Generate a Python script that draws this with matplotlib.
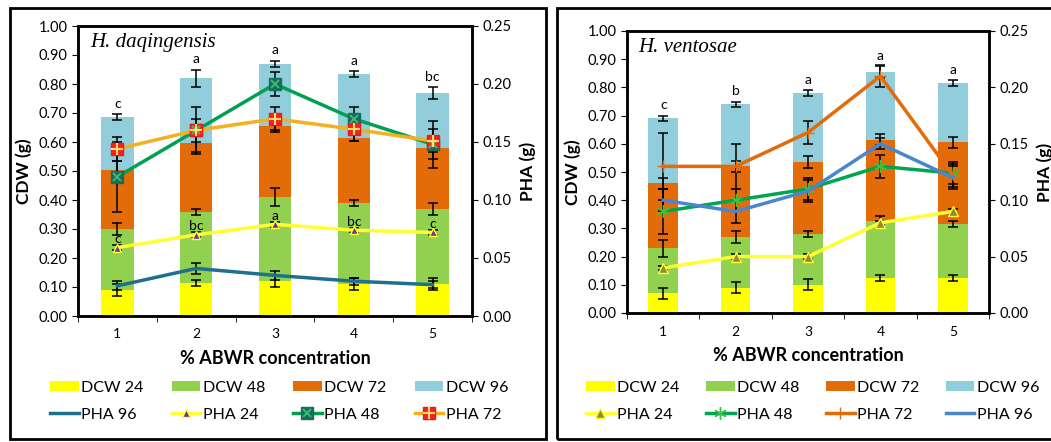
import numpy as np
import matplotlib
matplotlib.use("Agg")
import matplotlib.pyplot as plt
from matplotlib.patches import Rectangle

plt.rcParams['font.family'] = ['Lato', 'DejaVu Sans']

conc = [1, 2, 3, 4, 5]

# H. daqingensis: DCW stacked segments (g), errors at segment tops
dq_dcw24 = [0.09, 0.115, 0.12, 0.11, 0.11]
dq_dcw48 = [0.21, 0.245, 0.29, 0.28, 0.26]
dq_dcw72 = [0.205, 0.235, 0.245, 0.225, 0.21]
dq_dcw96 = [0.18, 0.225, 0.215, 0.22, 0.19]
dq_dcw24_err = [0.02, 0.01, 0.02, 0.02, 0.02]
dq_dcw48_err = [0.02, 0.01, 0.03, 0.01, 0.02]
dq_dcw72_err = [0.03, 0.03, 0.02, 0.01, 0.04]
dq_dcw96_err = [0.01, 0.03, 0.01, 0.01, 0.02]
dq_pha96 = [0.026, 0.041, 0.035, 0.030, 0.027]
dq_pha24 = [0.059, 0.070, 0.079, 0.074, 0.072]
dq_pha48 = [0.120, 0.160, 0.200, 0.170, 0.148]
dq_pha72 = [0.144, 0.160, 0.170, 0.161, 0.151]
dq_pha96_err = [0.004, 0.005, 0.004, 0.003, 0.003]
dq_pha24_err = [0.002, 0.002, 0.002, 0.002, 0.002]
dq_pha48_err = [0.030, 0.020, 0.010, 0.010, 0.020]
dq_pha72_err = [0.010, 0.010, 0.010, 0.010, 0.010]
dq_top_letters = ['c', 'a', 'a', 'a', 'bc']
dq_pha24_letters = ['c', 'bc', 'a', 'bc', 'c']

# H. ventosae
hv_dcw24 = [0.07, 0.09, 0.10, 0.125, 0.125]
hv_dcw48 = [0.16, 0.18, 0.18, 0.20, 0.19]
hv_dcw72 = [0.23, 0.25, 0.255, 0.29, 0.29]
hv_dcw96 = [0.23, 0.22, 0.245, 0.24, 0.21]
hv_dcw24_err = [0.02, 0.02, 0.02, 0.01, 0.01]
hv_dcw48_err = [0.03, 0.02, 0.01, 0.02, 0.01]
hv_dcw72_err = [0.02, 0.02, 0.02, 0.02, 0.02]
hv_dcw96_err = [0.01, 0.01, 0.01, 0.02, 0.01]
hv_pha24 = [0.040, 0.050, 0.050, 0.080, 0.090]
hv_pha48 = [0.090, 0.100, 0.110, 0.130, 0.124]
hv_pha72 = [0.130, 0.130, 0.160, 0.210, 0.122]
hv_pha96 = [0.100, 0.090, 0.108, 0.150, 0.120]
hv_pha24_err = [0.002, 0.002, 0.002, 0.002, 0.002]
hv_pha48_err = [0.020, 0.010, 0.010, 0.010, 0.010]
hv_pha72_err = [0.030, 0.020, 0.010, 0.010, 0.010]
hv_pha96_err = [0.010, 0.010, 0.010, 0.005, 0.010]
hv_top_letters = ['c', 'b', 'a', 'a', 'a']

bar_colors = ['#FFFF00', '#92D050', '#E36C09', '#92CDDC']
dcw_names = ['DCW 24', 'DCW 48', 'DCW 72', 'DCW 96']

W, H = 1051, 442
fig = plt.figure(figsize=(W / 100, H / 100), dpi=100)


def px_axes(x0, y0, x1, y1):
    return fig.add_axes([x0 / W, 1 - y1 / H, (x1 - x0) / W, (y1 - y0) / H])


def draw_panel(ax, dcw, dcw_err, lines, title, top_letters):
    x = np.array(conc)
    bottom = np.zeros(5)
    bars = []
    for vals, errs, c, name in zip(dcw, dcw_err, bar_colors, dcw_names):
        b = ax.bar(x, vals, 0.41, bottom=bottom, color=c, label=name, zorder=2)
        bars.append(b)
        bottom = bottom + np.array(vals)
        ax.errorbar(x, bottom, yerr=errs, fmt='none', ecolor='black',
                    elinewidth=1.1, capsize=3.5, capthick=1.1, zorder=3)
    for xi, top, e, lab in zip(x, bottom, dcw_err[-1], top_letters):
        ax.text(xi, top + e + 0.015, lab, ha='center', va='bottom', fontsize=10)

    ax.set_xlim(0.5, 5.5)
    ax.set_ylim(0, 1.0)
    ax.set_yticks(np.arange(0, 1.01, 0.1))
    ax.set_yticklabels([f'{v:.2f}' for v in np.arange(0, 1.01, 0.1)])
    ax.set_xticks(x)
    ax.set_xticks(np.arange(0.5, 5.6, 1), minor=True)
    ax.tick_params(axis='x', which='major', length=0, pad=9, labelsize=10)
    ax.tick_params(axis='x', which='minor', length=4, direction='out')
    ax.tick_params(axis='y', length=4, direction='out', labelsize=10.5)
    for s in ax.spines.values():
        s.set_linewidth(1.8)
    ax.set_ylabel('CDW (g)', fontsize=12.5, fontweight='bold', labelpad=5)
    ax.set_xlabel('% ABWR concentration', fontsize=13, fontweight='bold', labelpad=7)
    ax.text(0.03, 0.975, title, transform=ax.transAxes, ha='left', va='top',
            fontsize=15, style='italic', family='Liberation Serif')

    ax2 = ax.twinx()
    ax2.set_ylim(0, 0.25)
    ax2.set_yticks(np.arange(0, 0.26, 0.05))
    ax2.set_yticklabels([f'{v:.2f}' for v in np.arange(0, 0.26, 0.05)])
    ax2.tick_params(axis='y', length=4, direction='out', labelsize=10.5)
    ax2.set_ylabel('PHA (g)', fontsize=12.5, fontweight='bold', labelpad=6)
    for s in ax2.spines.values():
        s.set_linewidth(1.8)
    handles = {}
    for name, vals, errs, style, extra in lines:
        ax2.errorbar(x, vals, yerr=errs, fmt='none', ecolor='black',
                     elinewidth=1.1, capsize=3.5, capthick=1.1, zorder=3)
        h, = ax2.plot(x, vals, label=name, zorder=4, **style)
        if extra is not None:
            h2, = ax2.plot(x, vals, ls='none', zorder=5, **extra)
            handles[name] = (h, h2)
        else:
            handles[name] = h
    return ax2, bars, handles


def add_legend(bars, hd, order, x0, colsp):
    hs, labs = [], []
    for i in range(4):
        hs += [bars[i], hd[order[i]]]
        labs += [dcw_names[i], order[i]]
    fig.legend(hs, labs, ncol=4, frameon=False,
               loc='upper left', bbox_to_anchor=(x0 / W, 1 - 373 / H),
               fontsize=11.5, handlelength=1.8, handleheight=0.6,
               handletextpad=0.15, columnspacing=colsp,
               borderpad=0, labelspacing=0.8, numpoints=1)


# ---- left panel: H. daqingensis ----
axL = px_axes(78, 26, 472, 316)
dq_lines = [
    ('PHA 96', dq_pha96, dq_pha96_err, dict(color='#1F6F8F', lw=2.5), None),
    ('PHA 24', dq_pha24, dq_pha24_err,
     dict(color='#FFFF33', lw=2.5, marker='^', ms=6, mfc='#7030A0', mec='#FFFF33'), None),
    ('PHA 48', dq_pha48, dq_pha48_err,
     dict(color='#00A050', lw=2.5, marker='s', ms=8, mfc='#1B6B5B', mec='#127060'),
     dict(marker='x', ms=6, mec='#3CC070', mew=1.3)),
    ('PHA 72', dq_pha72, dq_pha72_err,
     dict(color='#F5B020', lw=2.5, marker='s', ms=8.5, mfc='#FF1E1E', mec='#E02020'),
     dict(marker='+', ms=9, mec='#FFE070', mew=1.5)),
]
axL2, barsL, hL = draw_panel(axL, [dq_dcw24, dq_dcw48, dq_dcw72, dq_dcw96],
                             [dq_dcw24_err, dq_dcw48_err, dq_dcw72_err, dq_dcw96_err],
                             dq_lines, 'H. daqingensis', dq_top_letters)
for xi, v, lab in zip(conc, dq_pha24, dq_pha24_letters):
    axL2.text(xi, v + 0.002, lab, ha='center', va='bottom', fontsize=10)
add_legend(barsL, hL, ['PHA 96', 'PHA 24', 'PHA 48', 'PHA 72'], 42, 1.75)

# ---- right panel: H. ventosae ----
axR = px_axes(627, 31, 989, 313)
hv_lines = [
    ('PHA 24', hv_pha24, hv_pha24_err,
     dict(color='#FFFF33', lw=2.5, marker='^', ms=7, mfc='#8C8C3C', mec='#FFFF33'), None),
    ('PHA 48', hv_pha48, hv_pha48_err,
     dict(color='#00A550', lw=2.5, marker=(6, 2, 0), ms=9, mec='#40C040'), None),
    ('PHA 72', hv_pha72, hv_pha72_err,
     dict(color='#E36C09', lw=2.5, marker='+', ms=9, mec='#E36C09'), None),
    ('PHA 96', hv_pha96, hv_pha96_err, dict(color='#4A86D0', lw=2.5), None),
]
axR2, barsR, hR = draw_panel(axR, [hv_dcw24, hv_dcw48, hv_dcw72, hv_dcw96],
                             [hv_dcw24_err, hv_dcw48_err, hv_dcw72_err, hv_dcw96_err],
                             hv_lines, 'H. ventosae', hv_top_letters)
add_legend(barsR, hR, ['PHA 24', 'PHA 48', 'PHA 72', 'PHA 96'], 578, 1.65)

# panel frames
fig.patches.append(Rectangle((10 / W, 1 - 439 / H), 536 / W, 431 / H,
                             transform=fig.transFigure, fill=False,
                             ec='black', lw=2))
fig.patches.append(Rectangle((557 / W, 1 - 439 / H), 500 / W, 431 / H,
                             transform=fig.transFigure, fill=False,
                             ec='black', lw=2))

fig.savefig('out.png', dpi=100)
